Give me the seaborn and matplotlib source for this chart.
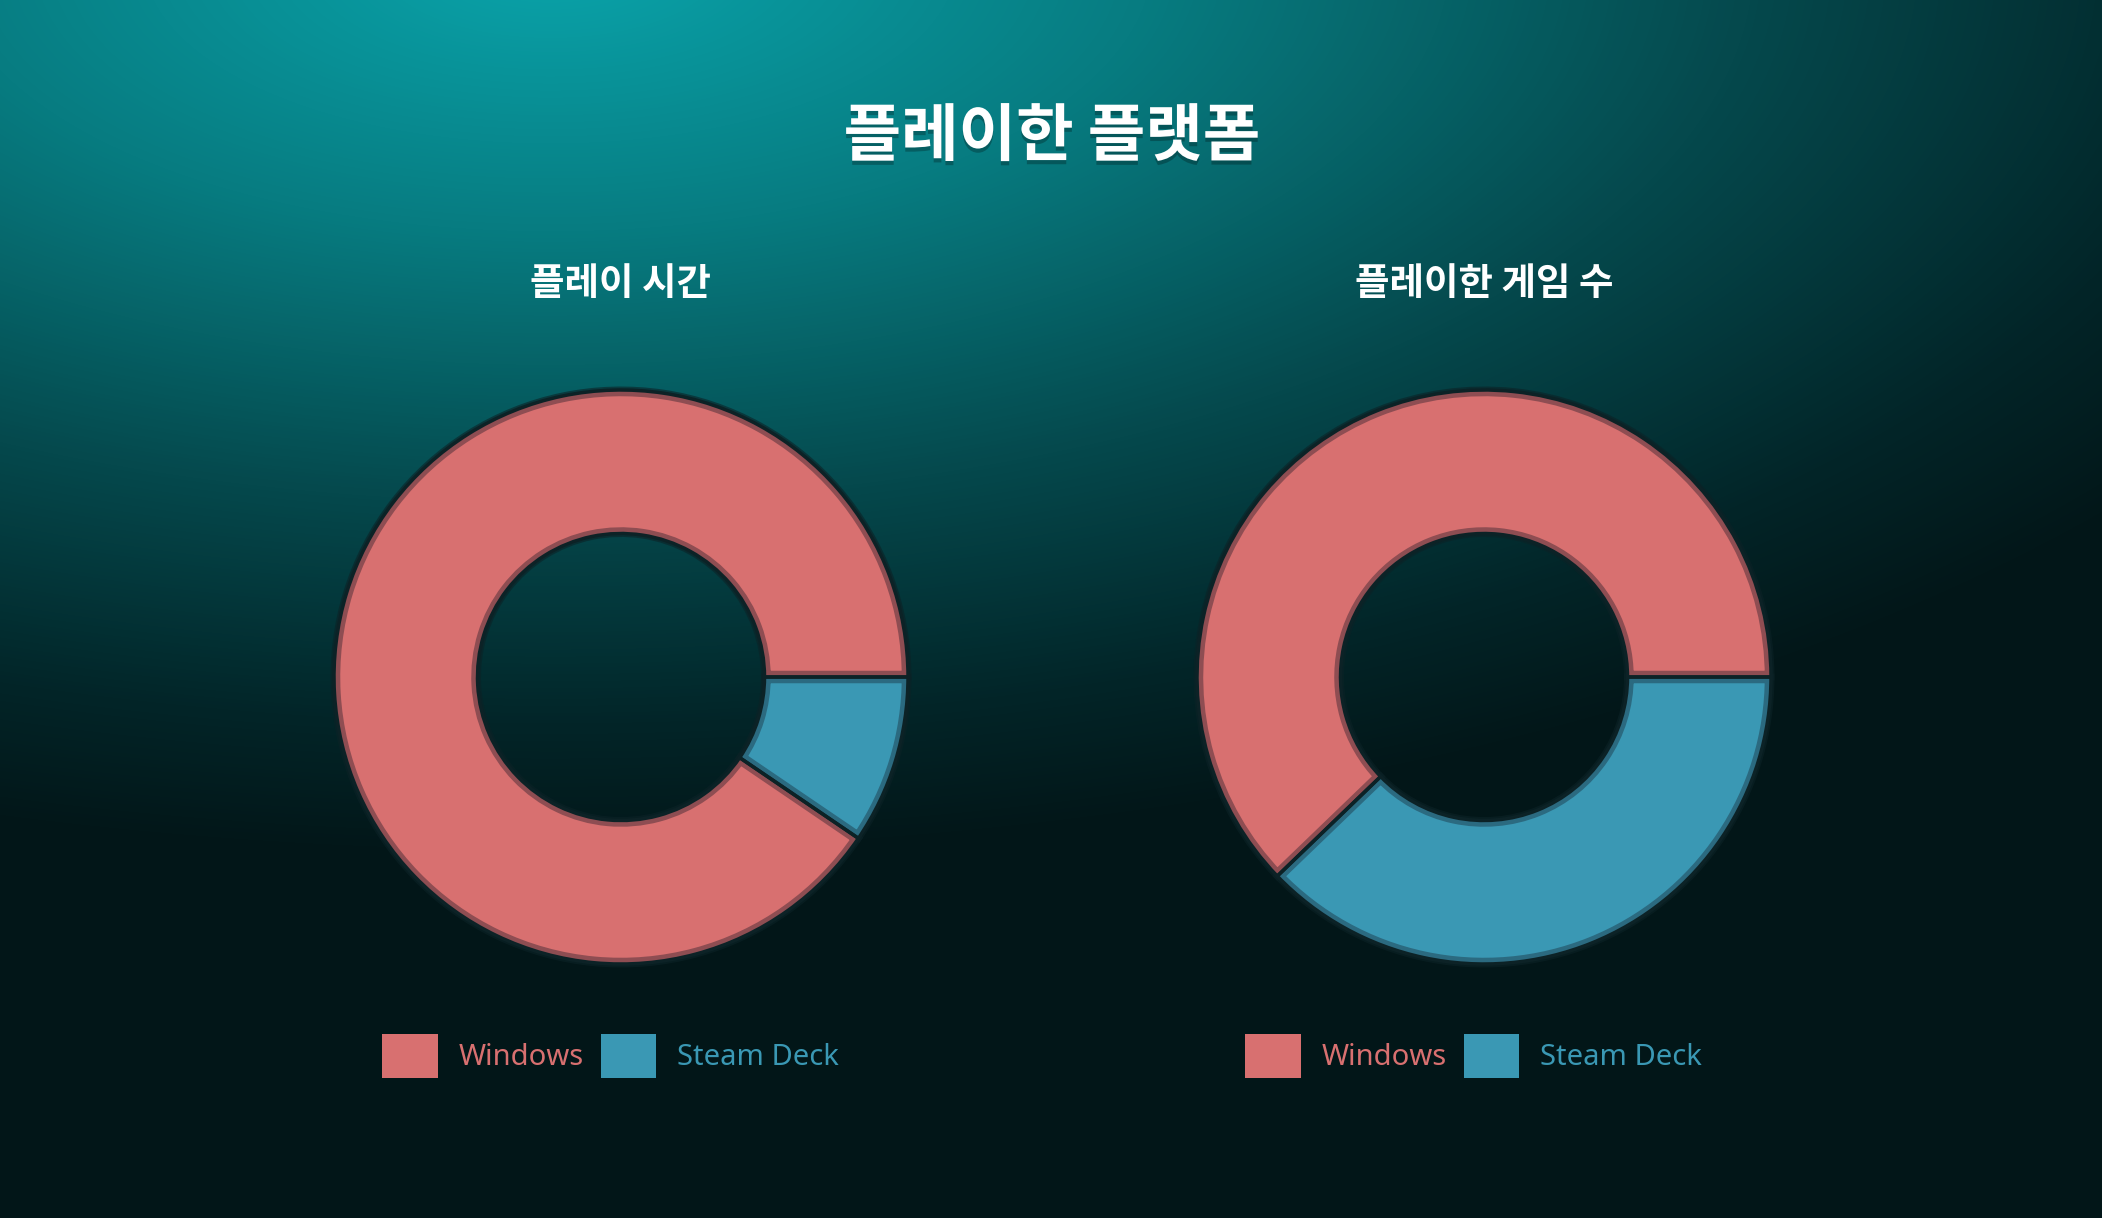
import numpy as np
import matplotlib
matplotlib.use("Agg")
import matplotlib.pyplot as plt
from matplotlib.colors import LinearSegmentedColormap
from matplotlib.patches import Patch
import matplotlib.patheffects as pe
import seaborn as sns

# data (shares)
platforms = ["Windows", "Steam Deck"]
play_time = [90.5, 9.5]
games_played = [62.2, 37.8]
panel_titles = ["플레이 시간", "플레이한 게임 수"]
main_title = "플레이한 플랫폼"

sns.set_theme(style="white")
plt.rcParams['font.family'] = ['Noto Sans CJK KR', 'DejaVu Sans']

palette = sns.color_palette(["#d87070", "#3a98b4"])
edge_cols = ["#8e4d52", "#2b6a80"]
gap_col = "#0c2226"

W, H = 2102, 1218
fig = plt.figure(figsize=(W / 100, H / 100), dpi=100)

# background glow top-left
yy, xx = np.mgrid[0:H, 0:W]
d = np.sqrt(((xx - 550) / 2000.0) ** 2 + ((yy + 40) / 900.0) ** 2)
bg_cmap = LinearSegmentedColormap.from_list(
    "bg", [(0, "#0aa4ab"), (0.3, "#077c81"), (0.6, "#05494d"),
           (0.85, "#022528"), (1, "#021618")])
bg = fig.add_axes([0, 0, 1, 1], zorder=0)
bg.imshow(np.clip(d, 0, 1), cmap=bg_cmap, vmin=0, vmax=1, aspect="auto")
bg.axis("off")

r_px = 287
half = 1.1 * r_px
centers = [(621, 677), (1484, 677)]

for (cx, cy), vals, ttl in zip(centers, [play_time, games_played], panel_titles):
    ax = fig.add_axes([(cx - half) / W, 1 - (cy + half) / H, 2 * half / W, 2 * half / H], zorder=1)
    ax.set_facecolor("none")
    start = -360 * vals[1] / sum(vals)
    # soft dark shadow round the ring
    ax.pie(vals, colors=[gap_col] * 2, startangle=start, counterclock=False,
           radius=1, wedgeprops=dict(width=0.5, linewidth=5, edgecolor=gap_col, alpha=0.6))
    wedges, _ = ax.pie(vals, colors=palette, startangle=start, counterclock=False,
                       radius=1, wedgeprops=dict(width=0.5, linewidth=9))
    for w, ec in zip(wedges, edge_cols):
        w.set_edgecolor(ec)
        w.set_clip_path(w)  # keep border on the inside of each slice
        w.set_clip_on(True)
    # thin dark seam between slices
    ax.pie(vals, colors=["none"] * 2, startangle=start, counterclock=False,
           radius=1, wedgeprops=dict(width=0.5, linewidth=2.5, edgecolor=gap_col, fill=False))
    ax.set_xlim(-1.1, 1.1)
    ax.set_ylim(-1.1, 1.1)
    ax.axis("off")

    fig.text(cx / W, 1 - 284 / H, ttl, color="white", fontsize=27,
             ha="center", va="center", fontweight="bold")

    handles = [Patch(facecolor=c, edgecolor="none") for c in palette]
    leg = fig.legend(handles, platforms, loc="center",
                     bbox_to_anchor=(cx / W - 0.005, 1 - 1056 / H),
                     bbox_transform=fig.transFigure, ncol=2, frameon=False,
                     prop={"family": ["Noto Sans", "DejaVu Sans"], "size": 21},
                     handlelength=1.9, handleheight=1.9, handletextpad=0.7,
                     columnspacing=0.6)
    for t, c in zip(leg.get_texts(), palette):
        t.set_color(c)

fig.text(1052 / W, 1 - 137 / H, main_title, color="white", fontsize=45,
         fontweight="bold", ha="center", va="center",
         path_effects=[pe.withSimplePatchShadow(offset=(0, -3), shadow_rgbFace="black", alpha=0.25)])

fig.savefig("out.png", dpi=100)
